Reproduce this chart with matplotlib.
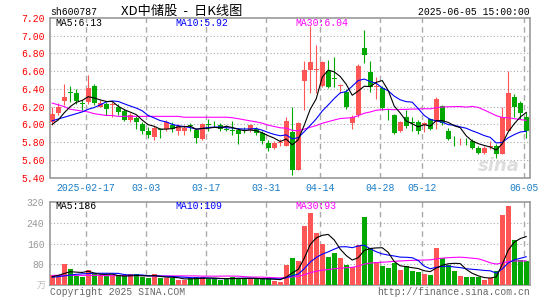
import numpy as np
import pandas as pd
import matplotlib
matplotlib.use('Agg')
import matplotlib.pyplot as plt

# 交易日 (2025-02-07 .. 2025-06-05, 去掉节假日)
holidays = ['2025-04-04', '2025-05-01', '2025-05-02', '2025-05-05', '2025-06-02']
dates = [d for d in pd.bdate_range('2025-02-07', '2025-06-05') if d.strftime('%Y-%m-%d') not in holidays]

opens = [6.03, 6.13, 6.26, 6.36, 6.35, 6.24, 6.25, 6.43, 6.20, 6.23,
         6.22, 6.19, 6.15, 6.05, 6.07, 6.00, 5.93, 5.86, 5.95, 5.95,
         5.99, 5.93, 5.92, 5.99, 5.94, 5.84, 6.00, 6.02, 5.99, 5.95,
         5.94, 5.94, 5.94, 5.94, 5.95, 5.90, 5.79, 5.73, 5.79, 5.76,
         5.91, 5.49, 6.49, 6.61, 6.61, 6.43, 6.60, 6.52, 6.43, 6.37,
         6.02, 6.10, 6.86, 6.59, 6.42, 6.41, 6.11, 6.10, 5.92, 6.08,
         6.03, 6.03, 5.99, 6.06, 6.03, 6.21, 5.92, 5.84, 5.83, 5.84,
         5.81, 5.73, 5.68, 5.74, 5.75, 5.67, 5.93, 6.31, 6.24, 6.08]
highs = [6.19, 6.24, 6.45, 6.43, 6.40, 6.28, 6.56, 6.45, 6.27, 6.25,
         6.25, 6.23, 6.17, 6.13, 6.09, 6.03, 5.97, 5.98, 5.96, 6.05,
         6.03, 6.00, 5.99, 6.01, 5.96, 6.01, 6.06, 6.04, 6.01, 5.99,
         6.04, 5.96, 5.97, 6.00, 5.97, 5.93, 5.82, 5.81, 5.84, 6.08,
         6.19, 6.03, 6.71, 7.11, 6.90, 6.71, 6.73, 6.76, 6.46, 6.40,
         6.11, 6.68, 7.06, 6.71, 6.53, 6.43, 6.17, 6.12, 6.04, 6.16,
         6.08, 6.05, 6.03, 6.07, 6.31, 6.22, 5.96, 5.87, 5.85, 5.85,
         5.83, 5.75, 5.75, 5.81, 5.78, 6.20, 6.60, 6.34, 6.26, 6.14]
lows = [5.99, 6.11, 6.22, 6.25, 6.23, 6.16, 6.23, 6.22, 6.19, 6.10,
        6.08, 6.10, 6.04, 6.03, 5.95, 5.89, 5.85, 5.82, 5.85, 5.93,
        5.91, 5.88, 5.88, 5.93, 5.79, 5.82, 5.93, 5.97, 5.92, 5.92,
        5.88, 5.78, 5.90, 5.91, 5.88, 5.78, 5.70, 5.72, 5.76, 5.75,
        5.43, 5.48, 6.16, 6.35, 6.35, 6.42, 6.41, 6.42, 6.35, 6.17,
        5.95, 6.08, 6.69, 6.37, 6.29, 6.16, 6.05, 5.89, 5.91, 5.96,
        5.93, 5.89, 5.91, 5.94, 5.95, 5.99, 5.82, 5.76, 5.77, 5.77,
        5.72, 5.67, 5.67, 5.72, 5.62, 5.66, 5.92, 6.08, 6.06, 5.85]
closes = [6.12, 6.20, 6.31, 6.35, 6.26, 6.23, 6.41, 6.24, 6.24, 6.17,
          6.23, 6.14, 6.05, 6.10, 6.03, 5.92, 5.88, 5.96, 5.94, 6.03,
          5.95, 5.98, 5.96, 5.98, 5.85, 6.00, 5.99, 6.01, 5.95, 5.94,
          5.93, 5.89, 5.93, 5.99, 5.90, 5.81, 5.73, 5.79, 5.80, 6.04,
          5.48, 6.02, 6.61, 6.70, 6.63, 6.70, 6.42, 6.51, 6.44, 6.19,
          6.08, 6.66, 6.78, 6.42, 6.43, 6.18, 6.10, 5.90, 6.03, 5.98,
          6.02, 5.93, 6.02, 5.95, 6.29, 6.02, 5.83, 5.83, 5.84, 5.83,
          5.73, 5.68, 5.73, 5.75, 5.66, 6.08, 6.35, 6.19, 6.13, 5.92]
# 成交量 (万手)
volumes = [39, 36, 80, 61, 36, 33, 60, 43, 39, 34,
           37, 34, 34, 42, 42, 31, 29, 42, 27, 27,
           29, 20, 20, 27, 33, 33, 23, 23, 20, 29,
           33, 27, 23, 23, 27, 27, 23, 17, 14, 76,
           106, 92, 228, 278, 202, 157, 109, 122, 103, 79,
           70, 155, 260, 141, 89, 74, 65, 86, 59, 74,
           53, 49, 44, 41, 143, 106, 78, 53, 36, 32,
           30, 31, 19, 27, 54, 268, 303, 172, 97, 92]

# 图中均线开头部分 (窗口之前的数据看不到, 直接读图)
ma5_head = [6.00, 6.05, 6.13, 6.20]
ma10_head = [6.04, 6.06, 6.08, 6.10, 6.12, 6.14, 6.17, 6.19, 6.22]
ma30_head = [6.24, 6.22, 6.20, 6.17, 6.16, 6.15, 6.14, 6.12, 6.11, 6.10,
             6.10, 6.09, 6.09, 6.09, 6.09, 6.09, 6.09, 6.09, 6.09, 6.09,
             6.09, 6.09, 6.08, 6.08, 6.08, 6.08, 6.08, 6.08, 6.08]
vma5_head = [33, 38, 45, 52]
vma10_head = [31, 33, 36, 39, 42, 44, 45, 46, 46]
vma30_head = [38, 38, 38, 38, 38, 38, 38, 38, 38, 37,
              37, 37, 37, 37, 37, 37, 37, 36, 36, 36,
              36, 36, 36, 36, 36, 35, 35, 35, 35]

tick_dates = ['2025-02-17', '2025-03-03', '2025-03-17', '2025-03-31',
              '2025-04-14', '2025-04-28', '2025-05-12', '2025-06-05']
tick_labels = ['2025-02-17', '03-03', '03-17', '03-31', '04-14', '04-28', '05-12', '06-05']

RED = '#ff5555'
GREEN = '#00a800'
GRID = '#aaaaaa'
MONO = 'Liberation Mono'

x = np.arange(len(closes))
o = np.array(opens)
c = np.array(closes)
h = np.array(highs)
l = np.array(lows)
v = np.array(volumes)
up = c >= o
cols = np.where(up, RED, GREEN)

def moving(vals, n, head):
    m = pd.Series(vals, dtype=float).rolling(n).mean()
    m.iloc[:n-1] = head
    return m

ma = {5: moving(c, 5, ma5_head), 10: moving(c, 10, ma10_head), 30: moving(c, 30, ma30_head)}
vma = {5: moving(v, 5, vma5_head), 10: moving(v, 10, vma10_head), 30: moving(v, 30, vma30_head)}

date_str = [d.strftime('%Y-%m-%d') for d in dates]
tick_pos = [date_str.index(d) for d in tick_dates]

fig = plt.figure(figsize=(5.45, 3.0), dpi=100)
ax = fig.add_axes([50/545, 1-177.5/300, 480/545, 159.5/300])
axv = fig.add_axes([50/545, 1-285.3/300, 480/545, 83.6/300])

xlo, xhi = -0.37, 79.63

# K线
ax.vlines(x, l, h, colors=cols, linewidth=0.8, zorder=3)
body_lo = np.minimum(o, c)
body_h = np.maximum(np.abs(c - o), 0.008)
ax.bar(x, body_h, bottom=body_lo, width=0.82, color=cols, linewidth=0, zorder=4)

ax.plot(x, ma[30], color='#ff00ff', linewidth=0.8, zorder=5)
ax.plot(x, ma[10], color='#0000ff', linewidth=0.8, zorder=5)
ax.plot(x, ma[5], color='black', linewidth=0.8, zorder=5)

ax.set_xlim(xlo, xhi)
ax.set_ylim(5.40, 7.20)
yt = np.arange(5.40, 7.201, 0.2)
ax.set_yticks(yt)
ax.set_yticklabels(['%.2f' % t for t in yt], color='red', fontsize=7, family=MONO)
for t in yt[1:-1]:
    ax.axhline(t, color=GRID, linestyle=(0, (1, 2)), linewidth=0.8, zorder=1)

# 成交量
axv.bar(x, v, width=0.82, color=cols, linewidth=0, zorder=3)
axv.plot(x, vma[30], color='#ff00ff', linewidth=0.8, zorder=5)
axv.plot(x, vma[10], color='#0000ff', linewidth=0.8, zorder=5)
axv.plot(x, vma[5], color='black', linewidth=0.8, zorder=5)
axv.set_xlim(xlo, xhi)
axv.set_ylim(0, 320)
vt = [80, 160, 240, 320]
axv.set_yticks(vt)
axv.set_yticklabels([str(t) for t in vt], color='#999999', fontsize=7, family=MONO)
for t in vt[:-1]:
    axv.axhline(t, color=GRID, linestyle=(0, (1, 2)), linewidth=0.8, zorder=1)

for a in (ax, axv):
    for p in tick_pos:
        a.axvline(p - 0.36, color=GRID, linestyle=(0, (4, 3)), linewidth=1.0, zorder=1)
    a.set_xticks([])
    a.tick_params(axis='y', length=0, pad=4)
    for s in a.spines.values():
        s.set_color('#999999')
        s.set_linewidth(1.2)

# 日期标签
for p, lab in zip(tick_pos, tick_labels):
    ax.text(p - 0.36, -0.035, lab, transform=ax.get_xaxis_transform(), ha='center', va='top',
            color='#1a7dc8', fontsize=7, family=MONO)

def ftxt(px, py, s, **kw):
    fig.text(px/545, 1-py/300, s, va='center', **kw)

ftxt(50, 12, 'sh600787', fontsize=7, family=MONO, color='black')
ftxt(121, 11, 'XD中储股  -  日K线图', fontsize=9.5, family=['Noto Sans CJK SC', 'DejaVu Sans'], color='black')
ftxt(530, 12, '2025-06-05 15:00:00', ha='right', fontsize=7, family=MONO, color='black')

ftxt(55, 23, 'MA5:%.2f' % ma[5].iloc[-1], fontsize=7, family=MONO, color='black')
ftxt(175, 23, 'MA10:%.2f' % ma[10].iloc[-1], fontsize=7, family=MONO, color='#0000ff')
ftxt(295, 23, 'MA30:%.2f' % ma[30].iloc[-1], fontsize=7, family=MONO, color='#ff00ff')

ftxt(55, 206, 'MA5:%d' % round(vma[5].iloc[-1]), fontsize=7, family=MONO, color='black')
ftxt(175, 206, 'MA10:%d' % round(vma[10].iloc[-1]), fontsize=7, family=MONO, color='#0000ff')
ftxt(295, 206, 'MA30:%d' % round(vma[30].iloc[-1]), fontsize=7, family=MONO, color='#ff00ff')

ftxt(46, 286, '万', ha='right', fontsize=6.5, family=['Noto Sans CJK SC'], color='#bbbbbb')
ftxt(50, 292, 'Copyright 2025 SINA.COM', fontsize=7, family=MONO, color='#666666')
ftxt(530, 292, 'http://finance.sina.com.cn', ha='right', fontsize=7, family=MONO, color='#666666')

# 水印
ftxt(478, 166, 'sina', fontsize=13, family='DejaVu Sans', style='italic', weight='bold',
     color='#dddddd', zorder=0)

fig.savefig('out.png', dpi=100)
